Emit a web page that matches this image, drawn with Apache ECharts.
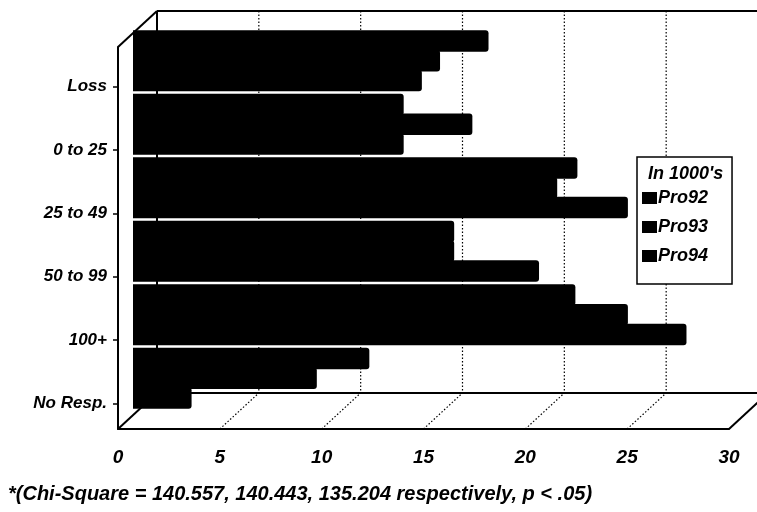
<!DOCTYPE html>
<html>
<head>
<meta charset="utf-8">
<script src="https://cdn.jsdelivr.net/npm/echarts@6/dist/echarts.min.js"></script>
<style>
  html, body { margin: 0; padding: 0; background: #fff; }
  #chart { width: 757px; height: 512px; }
</style>
</head>
<body>
<div id="chart"></div>
<script>
// Income groups (in 1000's) and the three survey years
const categories = ['Loss', '0 to 25', '25 to 49', '50 to 99', '100+', 'No Resp.'];
const pro92 = [17.6, 13.4, 22.0, 15.9, 21.9, 11.7];
const pro93 = [15.2, 16.8, 21.0, 15.9, 24.5, 9.1];
const pro94 = [14.3, 13.4, 24.5, 20.1, 27.4, 2.9];
const xTicks = [0, 5, 10, 15, 20, 25, 30];
const seriesNames = ['Pro92', 'Pro93', 'Pro94'];
const legendTitle = "In 1000's";
const footnote = '*(Chi-Square = 140.557, 140.443, 135.204 respectively, p < .05)';

const FONT = '"Liberation Sans", Arial, sans-serif';
const INK = '#000';

// grid geometry: bar plane, front floor plane, label plane
const BAR = { left: 133, right: 18, top: 29, bottom: 102 };
const FRONT = { left: 118, right: 28, top: 47, bottom: 83 };
const LABELS = { left: 118, right: 28, top: 55, bottom: 77 };
// depth vector from the front plane to the back wall
const DX = 39, DY = -36;

const chart = echarts.init(document.getElementById('chart'), null, { renderer: 'canvas' });

const textBase = { fontFamily: FONT, fontWeight: 'bold', fontStyle: 'italic', color: INK };

// bars of one group overlap slightly so each group reads as one solid block
const series = [pro92, pro93, pro94].map((vals, i) => ({
  name: seriesNames[i],
  type: 'bar',
  xAxisIndex: 0,
  yAxisIndex: 0,
  data: vals,
  barGap: '-8%',
  barCategoryGap: '4%',
  z: 5,
  itemStyle: { color: INK, borderRadius: [0, 3, 3, 0] },
  emphasis: { disabled: true }
}));

const option = {
  animation: false,
  backgroundColor: '#fff',
  grid: [
    Object.assign({}, BAR),
    Object.assign({}, FRONT),
    Object.assign({}, LABELS)
  ],
  xAxis: [
    { gridIndex: 0, type: 'value', min: 0, max: 30, interval: 5, show: false },
    {
      gridIndex: 1, type: 'value', min: 0, max: 30, interval: 5,
      axisLine: { show: true, lineStyle: { color: INK, width: 2 } },
      axisTick: { show: false },
      splitLine: { show: false },
      axisLabel: Object.assign({ fontSize: 19, margin: 19,
        formatter: v => (xTicks.indexOf(v) >= 0 ? String(v) : '') }, textBase)
    },
    { gridIndex: 2, type: 'value', min: 0, max: 30, show: false }
  ],
  yAxis: [
    { gridIndex: 0, type: 'category', data: categories, inverse: true, show: false },
    {
      gridIndex: 1, type: 'category', data: categories, inverse: true,
      axisLine: { show: true, lineStyle: { color: INK, width: 2 } },
      axisTick: { show: false },
      axisLabel: { show: false }
    },
    {
      gridIndex: 2, type: 'category', data: categories, inverse: true,
      axisLine: { show: false },
      axisTick: { show: true, alignWithLabel: true, length: 5, lineStyle: { color: INK, width: 1.5 } },
      axisLabel: Object.assign({ fontSize: 17, margin: 11 }, textBase)
    }
  ],
  legend: {
    data: seriesNames,
    orient: 'vertical',
    left: 637,
    top: 157,
    padding: [32, 24, 19, 5],
    itemGap: 11,
    itemWidth: 15,
    itemHeight: 12,
    backgroundColor: '#fff',
    borderColor: INK,
    borderWidth: 1.5,
    borderRadius: 0,
    selectedMode: false,
    icon: 'rect',
    textStyle: Object.assign({ fontSize: 18, padding: [0, 0, 0, -4] }, textBase),
    z: 10
  },
  title: [
    {
      text: legendTitle, left: 648, top: 165, padding: 0, z: 12,
      textStyle: Object.assign({ fontSize: 18 }, textBase)
    },
    {
      text: footnote, left: 8, top: 484, padding: 0,
      textStyle: Object.assign({ fontSize: 20 }, textBase)
    }
  ],
  series: series
};

chart.setOption(option);

// 3-D frame: back wall, floor and their dotted gridlines, placed off the front axis scale
const xf = v => chart.convertToPixel({ xAxisIndex: 1 }, v);
const floorF = chart.getHeight() - FRONT.bottom;
const floorB = floorF + DY;
const topF = FRONT.top;
const topB = topF + DY;
const x0 = xf(xTicks[0]);
const xEnd = xf(xTicks[xTicks.length - 1]);

const solid = { stroke: INK, lineWidth: 2, fill: null };
const dotted = { stroke: INK, lineWidth: 1.2, lineDash: [1.5, 2], fill: null };
const el = [];
function seg(a, b, style, z) {
  el.push({ type: 'line', shape: { x1: a[0], y1: a[1], x2: b[0], y2: b[1] }, style: style, z: z, silent: true });
}
xTicks.slice(1, -1).forEach(v => {
  const x = xf(v);
  seg([x, floorF], [x + DX, floorB], dotted, 1);
  seg([x + DX, topB], [x + DX, floorB], dotted, 1);
});
seg([x0 + DX, topB], [x0 + DX, floorB], solid, 1);
seg([x0 + DX, topB], [xEnd + DX, topB], solid, 1);
seg([x0, topF], [x0 + DX, topB], solid, 1);
seg([x0 + DX, floorB], [xEnd + DX, floorB], solid, 1);
seg([x0, floorF], [x0 + DX, floorB], solid, 1);
seg([xEnd, floorF], [xEnd + DX, floorB], solid, 1);

chart.setOption({ graphic: { elements: el } });
</script>
</body>
</html>
